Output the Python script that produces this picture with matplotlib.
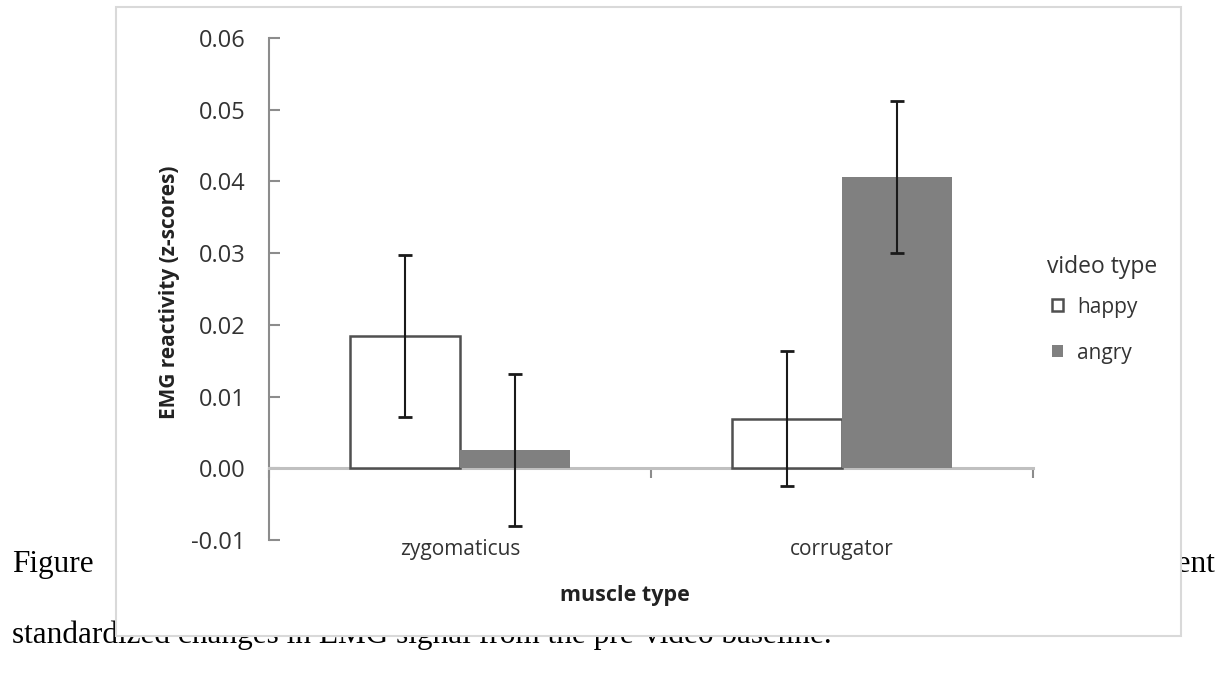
import matplotlib
matplotlib.use('Agg')
import matplotlib.pyplot as plt
import matplotlib.transforms as mtransforms
from matplotlib.patches import Patch, Rectangle
import numpy as np

# values
muscles = ['zygomaticus', 'corrugator']
happy = [0.0185, 0.0069]
happy_err = [0.0113, 0.0094]
angry = [0.0026, 0.0406]
angry_err = [0.0106, 0.0106]
yticks = [-0.01, 0.00, 0.01, 0.02, 0.03, 0.04, 0.05, 0.06]
video_types = ['happy', 'angry']

plt.rcParams['font.family'] = ['Open Sans', 'DejaVu Sans']

W, H = 1227, 677
fig = plt.figure(figsize=(W / 100, H / 100), dpi=100)
fig.patch.set_facecolor('white')

def fx(x):
    return x / W

def fy(y):
    return 1 - y / H

# caption text of the page, partly hidden behind the chart box
serif = dict(family='Liberation Serif', fontsize=22.5, color='black', va='baseline', zorder=-2)
fig.text(fx(12), fy(572), 'Figure', **serif)
fig.text(fx(1215), fy(572), 'represent', ha='right', **serif)
fig.text(fx(12), fy(643), 'standardized changes in EMG signal from the pre-video baseline.', **serif)

# chart box
box = Rectangle((fx(116), fy(636)), fx(1181) - fx(116), fy(7) - fy(636),
                transform=fig.transFigure, facecolor='white', edgecolor='#d9d9d9',
                linewidth=1.5, zorder=-1)
fig.add_artist(box)

ax = fig.add_axes([fx(269), fy(540), fx(1033) - fx(269), fy(38) - fy(540)])
ax.set_facecolor('none')

x = np.arange(len(muscles))
w = 0.288
err_style = dict(ecolor='#1a1a1a', elinewidth=1.5, capsize=4.7, capthick=2)
ax.bar(x - w / 2, happy, w, color='white', edgecolor='#505050', linewidth=1.8,
       yerr=happy_err, error_kw=err_style, zorder=3)
ax.bar(x + w / 2, angry, w, color='#808080', edgecolor='none',
       yerr=angry_err, error_kw=err_style, zorder=3)

ax.set_xlim(-0.5, 1.5)
ax.set_ylim(-0.01, 0.06)

ax.spines['top'].set_visible(False)
ax.spines['right'].set_visible(False)
ax.spines['left'].set_color('#8c8c8c')
ax.spines['left'].set_linewidth(1.5)
ax.spines['bottom'].set_position(('data', 0))
ax.spines['bottom'].set_color('#c0c0c0')
ax.spines['bottom'].set_linewidth(2.2)

ax.set_yticks(yticks)
ax.set_yticklabels(['%.2f' % v for v in yticks])
ax.tick_params(axis='y', direction='in', length=8, width=1.5, color='#8c8c8c',
               labelsize=17, labelcolor='#333333', pad=17)
ax.set_xticks([-0.5, 0.5, 1.5])
ax.set_xticklabels([])
ax.tick_params(axis='x', direction='out', length=7, width=1.5, color='#8c8c8c')

# category labels below the plot area
trans = mtransforms.blended_transform_factory(ax.transData, fig.transFigure)
for i, name in enumerate(muscles):
    ax.text(i, fy(550), name, transform=trans, ha='center', va='center',
            fontsize=15, color='#333333')

fig.text(fx(625), fy(595), 'muscle type', ha='center', va='center',
         fontsize=15.5, fontweight='bold', color='#222222')
fig.text(fx(169), fy(292), 'EMG reactivity (z-scores)', rotation=90, ha='center',
         va='center', fontsize=15, fontweight='bold', color='#222222')

# legend
fig.text(fx(1047), fy(267), 'video type', ha='left', va='center',
         fontsize=16.5, color='#333333')
handles = [Patch(facecolor='white', edgecolor='#505050', linewidth=1.8),
           Patch(facecolor='#808080', edgecolor='none')]
leg = ax.legend(handles, video_types, loc='center left',
                bbox_to_anchor=(fx(1052), fy(330)), bbox_transform=fig.transFigure,
                frameon=False, fontsize=15, handlelength=0.55,
                handleheight=0.55, handletextpad=0.65, labelspacing=1.2,
                borderpad=0, borderaxespad=0)
for t in leg.get_texts():
    t.set_color('#333333')

fig.savefig('out.png', dpi=100, facecolor='white')
